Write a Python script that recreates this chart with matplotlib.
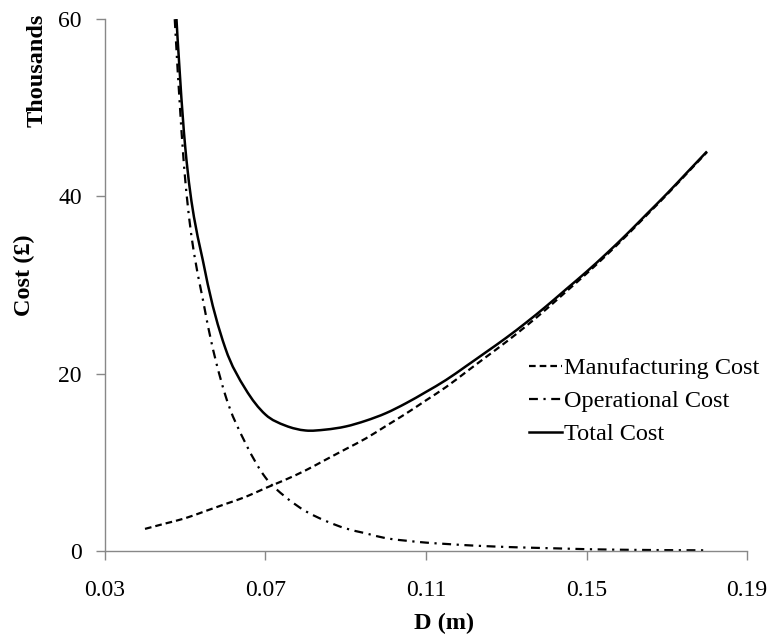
import matplotlib
matplotlib.use("Agg")
import matplotlib.pyplot as plt
from matplotlib.path import Path
from matplotlib.patches import PathPatch
from matplotlib.lines import Line2D

plt.rcParams['font.family'] = ['Liberation Serif', 'DejaVu Serif']

# Diameter D (m)
diameter = [0.040, 0.045, 0.050, 0.055, 0.060, 0.065, 0.070, 0.075, 0.080, 0.085,
            0.090, 0.095, 0.100, 0.105, 0.110, 0.115, 0.120, 0.125, 0.130, 0.135,
            0.140, 0.145, 0.150, 0.155, 0.160, 0.165, 0.170, 0.175, 0.180]

# Costs in thousands of pounds
manufacturing = [2.5, 3.1, 3.7, 4.5, 5.3, 6.1, 7.1, 8.05, 9.1, 10.3,
                 11.5, 12.7, 14.1, 15.5, 17.0, 18.5, 20.2, 21.9, 23.6, 25.4,
                 27.3, 29.3, 31.3, 33.4, 35.6, 37.9, 40.2, 42.6, 45.0]
operational = [105.0, 78.0, 42.0, 27.0, 17.6, 12.2, 8.3, 6.1, 4.5, 3.4,
               2.55, 2.0, 1.45, 1.17, 0.95, 0.80, 0.66, 0.55, 0.46, 0.39,
               0.33, 0.27, 0.21, 0.17, 0.14, 0.12, 0.10, 0.09, 0.08]
total = [107.5, 81.1, 45.7, 31.5, 22.9, 18.3, 15.4, 14.15, 13.6, 13.7,
         14.05, 14.7, 15.55, 16.67, 17.95, 19.3, 20.86, 22.45, 24.06, 25.79,
         27.63, 29.57, 31.51, 33.57, 35.74, 38.02, 40.3, 42.69, 45.08]

x_ticks = [0.03, 0.07, 0.11, 0.15, 0.19]
y_ticks = [0, 20, 40, 60]


def smooth_path(xs, ys):
    # Excel-like smoothed line: cubic Bezier segments through every data point
    pts = list(zip(xs, ys))
    verts = [pts[0]]
    codes = [Path.MOVETO]
    n = len(pts)
    for i in range(n - 1):
        p0 = pts[max(i - 1, 0)]
        p1 = pts[i]
        p2 = pts[i + 1]
        p3 = pts[min(i + 2, n - 1)]
        c1 = (p1[0] + (p2[0] - p0[0]) / 6, p1[1] + (p2[1] - p0[1]) / 6)
        c2 = (p2[0] - (p3[0] - p1[0]) / 6, p2[1] - (p3[1] - p1[1]) / 6)
        verts += [c1, c2, p2]
        codes += [Path.CURVE4] * 3
    return Path(verts, codes)


fig = plt.figure(figsize=(7.71, 6.4), dpi=100)
ax = fig.add_axes([0.136, 0.139, 0.833, 0.831])

styles = [
    (manufacturing, (0, (3, 1.8)), 1.6, 'Manufacturing Cost'),
    (operational, (0, (4, 2.5, 1, 2.5)), 1.6, 'Operational Cost'),
    (total, '-', 1.8, 'Total Cost'),
]
handles = []
for values, ls, lw, label in styles:
    patch = PathPatch(smooth_path(diameter, values), fill=False, edgecolor='black',
                      lw=lw, linestyle=ls, capstyle='butt')
    ax.add_patch(patch)
    handles.append(Line2D([], [], color='black', lw=lw, linestyle=ls, label=label))

ax.set_xlim(0.03, 0.19)
ax.set_ylim(0, 60)
ax.set_xticks(x_ticks)
ax.set_xticklabels(['%.2f' % v for v in x_ticks])
ax.set_yticks(y_ticks)

for side in ['top', 'right']:
    ax.spines[side].set_visible(False)
for side in ['left', 'bottom']:
    ax.spines[side].set_color('#888888')
    ax.spines[side].set_linewidth(1.0)
ax.tick_params(axis='both', direction='out', length=6.5, width=1.0, color='#888888',
               labelsize=17, labelcolor='black')
ax.tick_params(axis='x', pad=14)
ax.tick_params(axis='y', pad=10)

fig.text(0.048, 0.89, 'Thousands', rotation=90, fontsize=17.5, fontweight='bold',
         ha='center', va='center')
fig.text(0.032, 0.57, 'Cost (£)', rotation=90, fontsize=17.5, fontweight='bold',
         ha='center', va='center')
fig.text(0.576, 0.026, 'D (m)', fontsize=17.5, fontweight='bold', ha='center', va='center')

ax.legend(handles=handles, loc='upper left', bbox_to_anchor=(0.686, 0.442),
          bbox_transform=fig.transFigure, frameon=False, fontsize=17.5,
          handlelength=1.35, handletextpad=0.1, labelspacing=0.45,
          borderpad=0, borderaxespad=0)

fig.savefig('out.png', dpi=100)
